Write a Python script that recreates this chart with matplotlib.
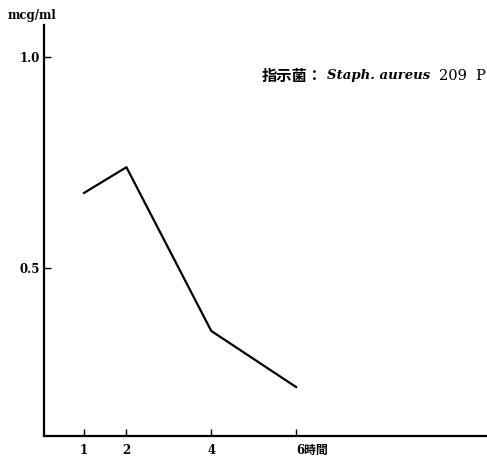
import matplotlib.pyplot as plt

# data
hours = [1, 2, 4, 6]
conc = [0.678, 0.739, 0.351, 0.218]
xtick_vals = [1, 2, 4, 6]
xtick_labels = ["1", "2", "4", "6時間"]
ytick_vals = [0.5, 1.0]
ytick_labels = ["0.5", "1.0"]

W, H = 487, 457
fig = plt.figure(figsize=(W / 100, H / 100), dpi=100)
ax = fig.add_axes([44 / W, 1 - 436 / H, 1 - 44 / W, (436 - 25) / H])

ax.plot(hours, conc, color="black", linewidth=1.6)

ax.set_xlim(0.057, 10.5)
ax.set_ylim(0.102, 1.076)

for side in ["top", "right"]:
    ax.spines[side].set_visible(False)
for side in ["left", "bottom"]:
    ax.spines[side].set_linewidth(1.6)

fam = ["DejaVu Serif", "Noto Sans CJK JP"]
ax.set_xticks(xtick_vals)
ax.set_xticklabels(xtick_labels, family=fam, fontweight="bold", fontsize=8.5)
ax.set_yticks(ytick_vals)
ax.set_yticklabels(ytick_labels, family=fam, fontweight="bold", fontsize=8.5)
ax.tick_params(axis="both", direction="in", length=5, width=1)
ax.tick_params(axis="x", pad=6)
ax.tick_params(axis="y", pad=3)
# the last label "6時間" starts at the tick
ax.get_xticklabels()[-1].set_horizontalalignment("left")
ax.get_xticklabels()[-1].set_x(5.88)

fig.text(8 / W, 1 - 15 / H, "mcg/ml", family=fam, fontweight="bold",
         fontsize=8.5, va="center", ha="left")

ty = 1 - 76 / H
fig.text(262 / W, ty, "指示菌：", family=["Noto Sans CJK JP"], fontweight="bold",
         fontsize=11, va="center", ha="left")
fig.text(327 / W, ty, "Staph. aureus", family=fam, style="italic",
         fontweight="bold", fontsize=9.5, va="center", ha="left")
fig.text(439 / W, ty, "209  P", family=fam, fontsize=10.5, va="center", ha="left")

fig.savefig("out.png", dpi=100)
